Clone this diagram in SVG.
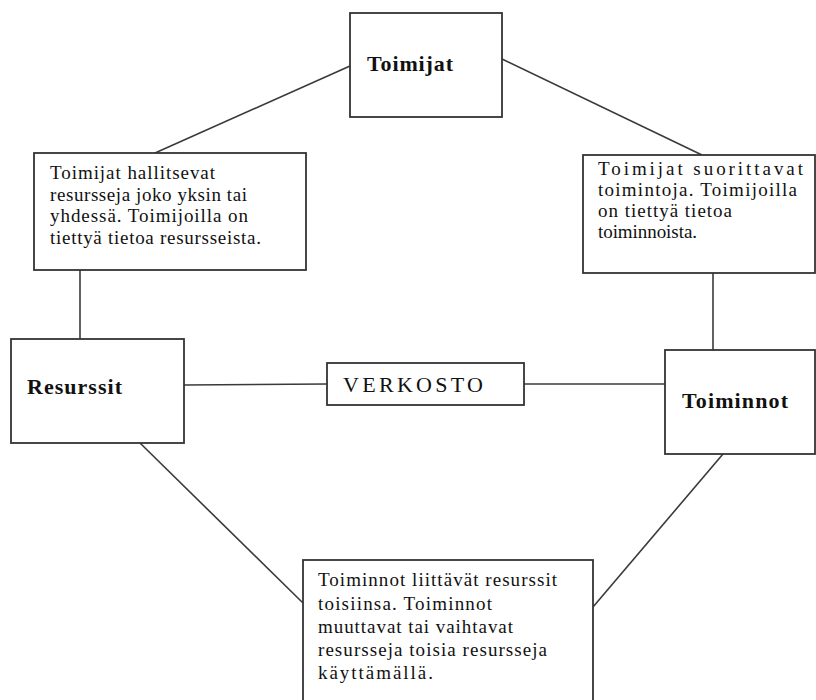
<svg xmlns="http://www.w3.org/2000/svg" width="816" height="700" viewBox="0 0 816 700">
  <style>
    .box { fill: #fff; stroke: #333; stroke-width: 1.8; }
    .link { stroke: #3a3a3a; stroke-width: 1.6; fill: none; }
    text { font-family: "Liberation Serif", "Times New Roman", serif; fill: #111; }
    .title { font-weight: bold; font-size: 22px; }
    .body { font-size: 19px; }
    .net { font-size: 22px; }
  </style>
  <rect width="816" height="700" fill="#fff"/>

  <!-- connectors -->
  <g id="connectors">
    <line class="link" x1="350" y1="66" x2="155" y2="153"/>
    <line class="link" x1="502" y1="59" x2="702" y2="155"/>
    <line class="link" x1="80" y1="270" x2="80" y2="339"/>
    <line class="link" x1="713" y1="273" x2="713" y2="350"/>
    <line class="link" x1="184" y1="385" x2="327" y2="384"/>
    <line class="link" x1="524" y1="384" x2="665" y2="384"/>
    <line class="link" x1="140" y1="443" x2="303" y2="603"/>
    <line class="link" x1="723" y1="454" x2="593" y2="607"/>
  </g>

  <!-- actors -->
  <g id="toimijat">
    <rect class="box" x="350" y="13" width="152" height="104"/>
    <text class="title" x="367" y="71" textLength="86" lengthAdjust="spacing">Toimijat</text>
  </g>

  <!-- note: actors and resources -->
  <g id="note-resources">
    <rect class="box" x="34" y="153" width="272" height="117"/>
    <text class="body" x="50" y="179" textLength="165" lengthAdjust="spacing">Toimijat hallitsevat</text>
    <text class="body" x="50" y="201" textLength="197" lengthAdjust="spacing">resursseja joko yksin tai</text>
    <text class="body" x="50" y="222" textLength="198" lengthAdjust="spacing">yhdessä. Toimijoilla on</text>
    <text class="body" x="50" y="244" textLength="211" lengthAdjust="spacing">tiettyä tietoa resursseista.</text>
  </g>

  <!-- note: actors and activities -->
  <g id="note-activities">
    <rect class="box" x="583" y="155" width="232" height="118"/>
    <text class="body" x="598" y="175" textLength="205" lengthAdjust="spacing">Toimijat suorittavat</text>
    <text class="body" x="598" y="196" textLength="199" lengthAdjust="spacing">toimintoja. Toimijoilla</text>
    <text class="body" x="598" y="217" textLength="134" lengthAdjust="spacing">on tiettyä tietoa</text>
    <text class="body" x="598" y="238" textLength="99" lengthAdjust="spacing">toiminnoista.</text>
  </g>

  <!-- resources -->
  <g id="resurssit">
    <rect class="box" x="11" y="339" width="173" height="104"/>
    <text class="title" x="27" y="394" textLength="95" lengthAdjust="spacing">Resurssit</text>
  </g>

  <!-- network -->
  <g id="verkosto">
    <rect class="box" x="327" y="363" width="197" height="42"/>
    <text class="net" x="343" y="392" textLength="140" lengthAdjust="spacing">VERKOSTO</text>
  </g>

  <!-- activities -->
  <g id="toiminnot">
    <rect class="box" x="665" y="350" width="150" height="104"/>
    <text class="title" x="682" y="408" textLength="106" lengthAdjust="spacing">Toiminnot</text>
  </g>

  <!-- note: activities and resources -->
  <g id="note-linking">
    <rect class="box" x="303" y="560" width="290" height="150"/>
    <text class="body" x="318" y="586" textLength="239" lengthAdjust="spacing">Toiminnot liittävät resurssit</text>
    <text class="body" x="318" y="610" textLength="174" lengthAdjust="spacing">toisiinsa. Toiminnot</text>
    <text class="body" x="318" y="633" textLength="195" lengthAdjust="spacing">muuttavat tai vaihtavat</text>
    <text class="body" x="318" y="656" textLength="229" lengthAdjust="spacing">resursseja toisia resursseja</text>
    <text class="body" x="318" y="679" textLength="115" lengthAdjust="spacing">käyttämällä.</text>
  </g>
</svg>
